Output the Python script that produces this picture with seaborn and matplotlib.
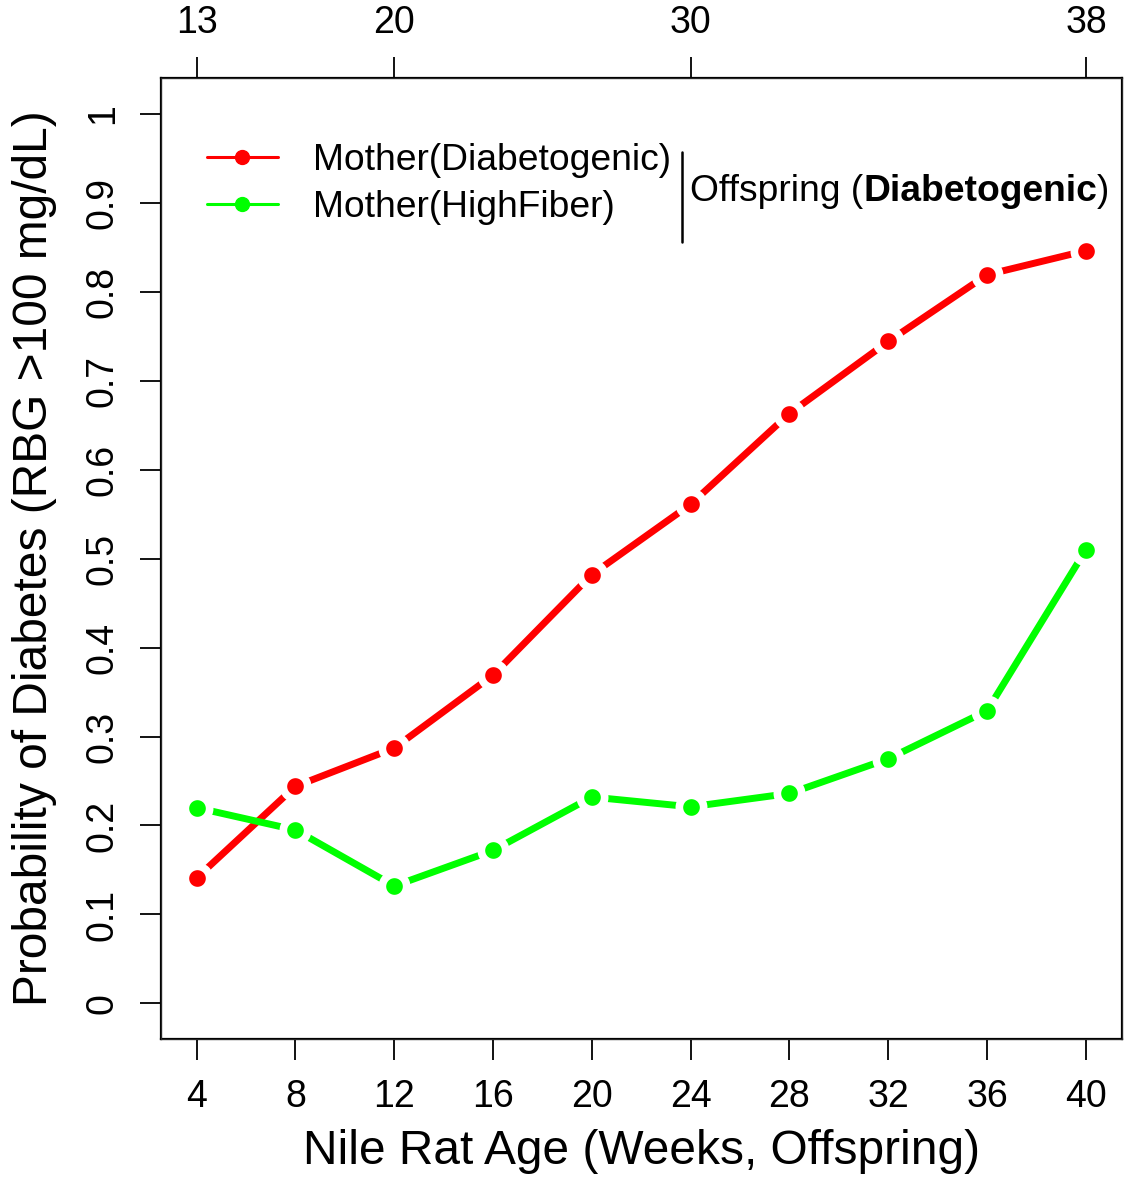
import pandas as pd
import matplotlib.pyplot as plt
import seaborn as sns
from matplotlib.lines import Line2D

# data
weeks = [4, 8, 12, 16, 20, 24, 28, 32, 36, 40]
diabetogenic = [0.141, 0.244, 0.287, 0.369, 0.482, 0.561, 0.663, 0.744, 0.819, 0.846]
highfiber = [0.220, 0.195, 0.132, 0.172, 0.232, 0.221, 0.236, 0.275, 0.329, 0.510]
groups = ["Mother(Diabetogenic)", "Mother(HighFiber)"]
colors = ["#FF0000", "#00FF00"]
top_ticks = [4, 12, 24, 40]
top_labels = ["13", "20", "30", "38"]
y_ticks = [0, 0.1, 0.2, 0.3, 0.4, 0.5, 0.6, 0.7, 0.8, 0.9, 1]
y_labels = ["0", "0.1", "0.2", "0.3", "0.4", "0.5", "0.6", "0.7", "0.8", "0.9", "1"]

df = pd.DataFrame({
    "Week": weeks * 2,
    "Prob": diabetogenic + highfiber,
    "Group": [groups[0]] * len(weeks) + [groups[1]] * len(weeks),
})

sns.set_style("ticks")
plt.rcParams["font.family"] = ["Liberation Sans", "DejaVu Sans"]
plt.rcParams["text.color"] = "black"
plt.rcParams["axes.labelcolor"] = "black"
plt.rcParams["xtick.color"] = "black"
plt.rcParams["ytick.color"] = "black"

fig = plt.figure(figsize=(11.25, 11.77), dpi=100)
ax = fig.add_axes([0.1431, 0.1172, 0.8538, 0.8165])

# type="b" look: white ring around the points breaks the line
sns.lineplot(data=df, x="Week", y="Prob", hue="Group", palette=colors,
             marker="o", markersize=17.5, markeredgecolor="white",
             markeredgewidth=5.5, linewidth=5, legend=False, ax=ax)

ax.set_xlim(2.56, 41.44)
ax.set_ylim(-0.04, 1.04)
ax.set_xticks(weeks)
ax.set_xticklabels([str(w) for w in weeks])
ax.set_yticks(y_ticks)
ax.set_yticklabels(y_labels, rotation=90, va="center")
ax.tick_params(axis="both", length=15, width=1.3, labelsize=27, color="black")
ax.tick_params(axis="x", pad=14)
ax.tick_params(axis="y", pad=14)
for s in ax.spines.values():
    s.set_visible(True)
    s.set_linewidth(1.6)
    s.set_color("black")

ax.set_xlabel("Nile Rat Age (Weeks, Offspring)", fontsize=34.5, labelpad=10)
ax.set_ylabel("Probability of Diabetes (RBG >100 mg/dL)", fontsize=34.5, labelpad=20)

# top axis: mother age
ax2 = ax.twiny()
ax2.set_xlim(ax.get_xlim())
ax2.set_xticks(top_ticks)
ax2.set_xticklabels(top_labels)
ax2.tick_params(axis="x", length=15, width=1.3, labelsize=27, pad=12)

handles = [Line2D([], [], color=c, lw=2.2, marker="o", markersize=10) for c in colors]
ax.legend(handles, groups, loc="upper left", bbox_to_anchor=(0.048, 0.932),
          frameon=False, fontsize=26.8, handlelength=1.9, handletextpad=0.95,
          borderaxespad=0, borderpad=0, labelspacing=0.3)

ax.plot([0.5424, 0.5424], [0.923, 0.829], transform=ax.transAxes,
        color="black", lw=1.8, clip_on=False)
t1 = ax.text(0.551, 0.8824, "Offspring (", transform=ax.transAxes,
             fontsize=26.8, va="center", ha="left")
t2 = ax.annotate("Diabetogenic", xy=(1, 0), xycoords=t1, va="bottom", ha="left",
                 fontsize=26.8, fontweight="bold")
ax.annotate(")", xy=(1, 0), xycoords=t2, va="bottom", ha="left", fontsize=26.8)

fig.savefig("out.png", dpi=100)
